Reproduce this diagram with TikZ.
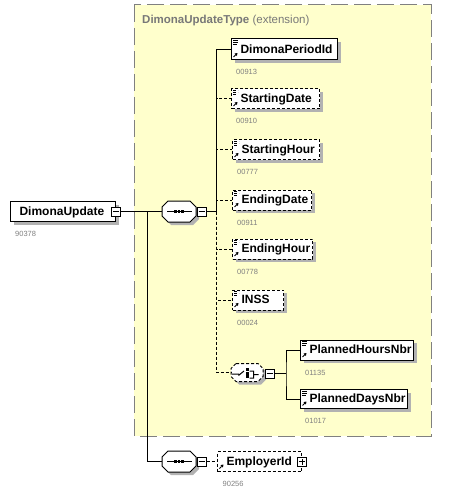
\documentclass[tikz,border=0pt]{standalone}
\usepackage{fontspec}
\setmainfont{Liberation Sans}
\usetikzlibrary{shadows,arrows.meta,calc}
\definecolor{extfill}{RGB}{255,255,204}
\definecolor{extline}{RGB}{128,128,128}
\definecolor{shadowc}{RGB}{178,178,178}
\definecolor{idgray}{RGB}{128,128,128}
\definecolor{titlegray}{RGB}{120,120,120}
\newcommand\elIconLines{\draw[line width=0.8pt]
  ([shift={(1.5,1.5)}]path picture bounding box.north west) -- ++(5,0)
  ([shift={(1.5,3.5)}]path picture bounding box.north west) -- ++(5,0)
  ([shift={(1.5,5.5)}]path picture bounding box.north west) -- ++(4,0);}
\newcommand\elIconArrow{\draw[line width=1pt,-{Triangle[length=2.6pt,width=3.2pt]}]
  ([shift={(2,-3)}]path picture bounding box.south west) -- ++(4,-4);}
% octagon outline around a named rectangular node: #1 name, #2 chamfer, #3 offset
\newcommand\octShape[3]{([shift={({#2+#3},{#3})}]#1.north west) -- ([shift={({-#2+#3},{#3})}]#1.north east)
  -- ([shift={({#3},{#2+#3})}]#1.north east) -- ([shift={({#3},{-#2+#3})}]#1.south east)
  -- ([shift={({-#2+#3},{#3})}]#1.south east) -- ([shift={({#2+#3},{#3})}]#1.south west)
  -- ([shift={({#3},{-#2+#3})}]#1.south west) -- ([shift={({#3},{#2+#3})}]#1.north west) -- cycle}
\newcommand\drawOcta[3][]{\fill[shadowc] \octShape{#2}{#3}{3};
  \draw[line width=1pt, fill=white, #1] \octShape{#2}{#3}{0};}
\newcommand\seqIcon[1]{\draw[line width=1pt] ([xshift=-12pt]#1.center) -- ([xshift=13pt]#1.center);
  \foreach \dx in {-5,-1.3,2.4}{\fill ([shift={(\dx,-1.3)}]#1.center) rectangle ++(2.6,2.6);}}
\newcommand\choiceIcon[1]{\draw[line width=1pt] ([shift={(-15,1.5)}]#1.center) -- ++(7,0)
  ([shift={(-8.5,3)}]#1.center) -- ++(5.5,-4.5)
  ([shift={(2.5,-1.5)}]#1.center) -- ++(4,0) -- ++(0,7) -- ++(-4,0)
  ([shift={(6.5,2)}]#1.center) -- ++(5,0);
  \foreach \dy in {-1.5,2,5.5}{\fill ([shift={(-0.8,\dy)}]#1.center) rectangle ++(2.6,-2.6);}}
\tikzset{
  elbase/.style={draw, fill=white, line width=1pt, anchor=west, inner xsep=9pt,
    inner ysep=0pt, align=left, font=\bfseries\fontsize{12}{14}\selectfont,
    text height=8pt, text depth=0.5pt, minimum height=20pt},
  shad/.style={drop shadow={shadow xshift=3pt, shadow yshift=-3pt, fill=shadowc, opacity=1}},
  optline/.style={dash pattern=on 3pt off 2pt},
  elfull/.style={path picture={\elIconLines\elIconArrow}},
  elarrow/.style={path picture={\elIconArrow}},
  idl/.style={anchor=base west, inner sep=0pt, font=\fontsize{7.5}{9}\selectfont, text=idgray},
  conn/.style={line width=1pt},
  dconn/.style={conn, optline},
  minusbox/.style={draw, fill=white, line width=1pt, minimum size=9pt, inner sep=0pt,
    path picture={\draw[line width=1pt] ([xshift=1.5pt]path picture bounding box.west) -- ([xshift=-1.5pt]path picture bounding box.east);}},
  plusbox/.style={draw, fill=white, line width=1pt, minimum size=9pt, inner sep=0pt,
    path picture={\draw[line width=1pt] ([xshift=1.5pt]path picture bounding box.west) -- ([xshift=-1.5pt]path picture bounding box.east)
      ([yshift=1.5pt]path picture bounding box.south) -- ([yshift=-1.5pt]path picture bounding box.north);}},
  octanode/.style={rectangle, inner sep=0pt, outer sep=0pt},
}
\begin{document}
\begin{tikzpicture}[x=1pt,y=-1pt]
\useasboundingbox (0,0) rectangle (448,494);
% extension area
\draw[extline, fill=extfill, line width=1pt, dash pattern=on 17pt off 6pt] (134,5) rectangle (431,436);
\node[anchor=base west, inner sep=0pt, text=titlegray, font=\fontsize{11.5}{13}\selectfont] (title) at (142,23.5) {\textbf{DimonaUpdateType} (extension)};

% root
\node[elbase, shad, text width=87pt] (du) at (10,211.5) {DimonaUpdate};
\node[minusbox] (dum) at (du.east) {};
\node[idl] (dul) at ([xshift=5pt,yshift=-14.5pt]du.south west) {90378};

% first sequence
\node[octanode, minimum width=34pt, minimum height=21pt] (seq1) at (179,211.5) {};
\drawOcta{seq1}{6}
\seqIcon{seq1}
\node[minusbox] (seq1m) at (201.5,211.5) {};
\coordinate (j1) at (147,211.5);
\coordinate (j2) at (216.5,211.5);

% children
\node[elbase, shad, elfull, text width=88pt, minimum height=21pt] (dpid) at (231,49.5) {DimonaPeriodId};
\node[elbase, shad, elfull, optline, text width=70pt] (sd) at (231,99) {StartingDate};
\node[elbase, shad, elfull, optline, text width=69pt] (sh) at (232,150) {StartingHour};
\node[elbase, shad, elfull, optline, text width=61pt] (ed) at (232,200) {EndingDate};
\node[elbase, shad, elfull, optline, text width=62pt] (eh) at (232,249) {EndingHour};
\node[elbase, shad, elfull, optline, text width=33pt] (inss) at (232,300) {INSS};

\node[idl] (dpidl) at ([xshift=5pt,yshift=-14.5pt]dpid.south west) {00913};
\node[idl] (sdl) at ([xshift=5pt,yshift=-14.5pt]sd.south west) {00910};
\node[idl] (shl) at ([xshift=5pt,yshift=-14.5pt]sh.south west) {00777};
\node[idl] (edl) at ([xshift=5pt,yshift=-14.5pt]ed.south west) {00911};
\node[idl] (ehl) at ([xshift=5pt,yshift=-14.5pt]eh.south west) {00778};
\node[idl] (inssl) at ([xshift=5pt,yshift=-14.5pt]inss.south west) {00024};

% choice
\node[octanode, minimum width=32pt, minimum height=18pt] (ch) at (247,372.5) {};
\drawOcta[optline]{ch}{5}
\choiceIcon{ch}
\node[minusbox] (chm) at (269.5,373.5) {};
\coordinate (j3) at (286,373.5);
\node[elbase, shad, elfull, text width=95pt] (ph) at (300,350) {PlannedHoursNbr};
\node[elbase, shad, elfull, text width=89pt, minimum height=19pt] (pd) at (300,399) {PlannedDaysNbr};
\node[idl] (phl) at ([xshift=5pt,yshift=-14.5pt]ph.south west) {01135};
\node[idl] (pdl) at ([xshift=5pt,yshift=-14.5pt]pd.south west) {01017};

% second sequence
\node[octanode, minimum width=34pt, minimum height=21pt] (seq2) at (179,461.5) {};
\drawOcta{seq2}{6}
\seqIcon{seq2}
\node[minusbox] (seq2m) at (201.5,461.5) {};
\node[elbase, elarrow, optline, text width=66pt] (emp) at (217,461.5) {EmployerId};
\node[plusbox] (empp) at (emp.east) {};
\node[idl] (empl) at ([xshift=5.5pt,yshift=-14.5pt]emp.south west) {90256};

% connectors
\draw[conn] (dum.east) -- (seq1.west);
\draw[conn] (j1) |- (seq2.west);
\draw[conn] (seq1m.east) -- (j2);
\draw[conn] (dpid.west) -| (j2);
\foreach \n in {sd,sh,ed,eh,inss,ch}{\draw[dconn] (j2) |- (\n.west);}
\draw[conn] (chm.east) -- (j3);
\draw[conn] (ph.west) -| (j3) |- (pd.west);
\draw[dconn] (seq2m.east) -- (emp.west);
\end{tikzpicture}
\end{document}
